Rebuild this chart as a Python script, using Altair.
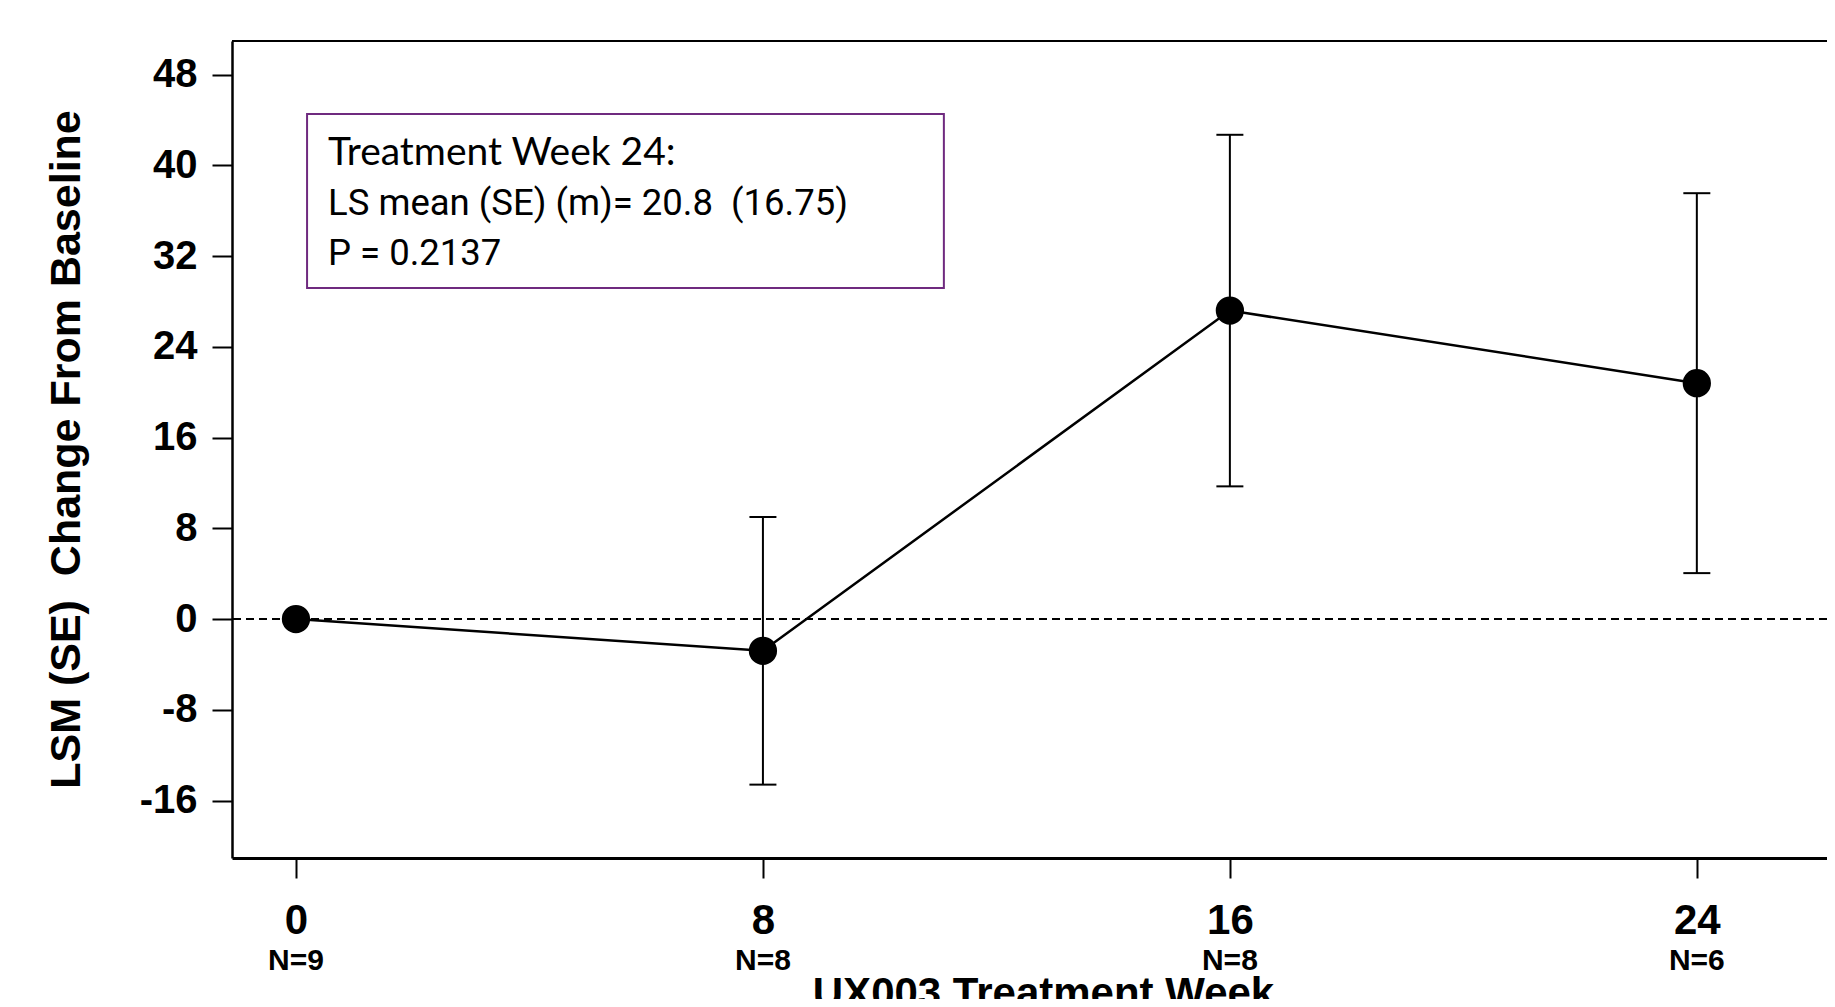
import altair as alt
import pandas as pd

# ---- data ----
weeks = [0, 8, 16, 24]
lsm = [0.0, -2.8, 27.2, 20.8]
se = [0.0, 11.8, 15.5, 16.75]
n_labels = ["N=9", "N=8", "N=8", "N=6"]
x_ticks = [0, 8, 16, 24]
y_ticks = [-16, -8, 0, 8, 16, 24, 32, 40, 48]
box_lines = ["Treatment Week 24:", "LS mean (SE) (m)= 20.8\u00a0\u00a0(16.75)", "P = 0.2137"]
box_x = [0.19, 11.1]
box_y = [29.19, 44.53]

W, H = 1595, 817
X_DOMAIN = [-1.096, 26.23]
Y_DOMAIN = [-21.07, 50.97]
BOLD_FONT = "Liberation Sans, Arial, sans-serif"

df = pd.DataFrame({"week": weeks, "lsm": lsm, "se": se, "n": n_labels})
df["lo"] = df["lsm"] - df["se"]
df["hi"] = df["lsm"] + df["se"]
err = df[df["se"] > 0]

xs = alt.Scale(domain=X_DOMAIN, nice=False, zero=False)
ys = alt.Scale(domain=Y_DOMAIN, nice=False, zero=False)

x_axis = alt.Axis(
    values=x_ticks, grid=False, labelFont=BOLD_FONT, labelFontSize=42,
    labelFontWeight="bold", labelColor="black", tickSize=20, tickWidth=2,
    tickColor="black", domainColor="black", domainWidth=3, labelPadding=22,
    labelExpr="toString(datum.value)",
    title="UX003 Treatment Week", titleFont=BOLD_FONT, titleFontSize=42,
    titleFontWeight="bold", titleColor="black", titleX=811, titleY=148,
    titleBaseline="alphabetic", titleAlign="center",
)
y_axis = alt.Axis(
    values=y_ticks, grid=False, labelFont=BOLD_FONT, labelFontSize=40,
    labelFontWeight="bold", labelColor="black", tickSize=20, tickWidth=2,
    tickColor="black", domainColor="black", domainWidth=2.5, labelPadding=15,
    labelExpr="toString(datum.value)",
    title="LSM (SE)\u00a0\u00a0Change From Baseline", titleFont=BOLD_FONT, titleFontSize=43,
    titleFontWeight="bold", titleColor="black", titleX=-153, titleY=408,
    titleAngle=270, titleBaseline="alphabetic", titleAlign="center",
)


def X(field):
    return alt.X(field, scale=xs, axis=x_axis)


def Y(field):
    return alt.Y(field, scale=ys, axis=y_axis)


line = alt.Chart(df).mark_line(color="black", strokeWidth=2.5).encode(
    x=X("week:Q"), y=Y("lsm:Q"),
)

ref_df = pd.DataFrame({"week": [0], "zero": [0.0], "top": [Y_DOMAIN[1]]})
zero_line = alt.Chart(ref_df).mark_rule(color="black", strokeWidth=2, strokeDash=[8, 5]).encode(
    y=Y("zero:Q")
)
top_line = alt.Chart(ref_df).mark_rule(color="black", strokeWidth=2).encode(
    y=Y("top:Q")
)

bars = alt.Chart(err).mark_rule(color="black", strokeWidth=2).encode(
    x=X("week:Q"), y=Y("lo:Q"), y2="hi:Q",
)
cap_hi = alt.Chart(err).mark_rule(color="black", strokeWidth=2, xOffset=-13.5, x2Offset=13.5).encode(
    x=X("week:Q"), x2="week:Q", y=Y("hi:Q"),
)
cap_lo = alt.Chart(err).mark_rule(color="black", strokeWidth=2, xOffset=-13.5, x2Offset=13.5).encode(
    x=X("week:Q"), x2="week:Q", y=Y("lo:Q"),
)

points = alt.Chart(df).mark_point(filled=True, color="black", opacity=1, size=800, shape="circle").encode(
    x=X("week:Q"), y=Y("lsm:Q"),
)

n_text = alt.Chart(df).mark_text(font=BOLD_FONT, fontSize=30, fontWeight="bold", color="black",
                                 align="center", baseline="alphabetic").encode(
    x=X("week:Q"), y=alt.value(929), text="n:N",
)

box_df = pd.DataFrame({"x0": [box_x[0]], "x1": [box_x[1]], "y0": [box_y[0]], "y1": [box_y[1]]})
box = alt.Chart(box_df).mark_rect(fillOpacity=0, stroke="#6f2a7f", strokeWidth=2).encode(
    x=X("x0:Q"), x2="x1:Q", y=Y("y0:Q"), y2="y1:Q",
)

t1 = alt.Chart(pd.DataFrame({"t": [box_lines[0]]})).mark_text(
    font="Lato, Open Sans, sans-serif", fontSize=39, color="black",
    align="left", baseline="alphabetic").encode(x=alt.value(96), y=alt.value(124), text="t:N")
t2 = alt.Chart(pd.DataFrame({"t": [box_lines[1]]})).mark_text(
    font="Roboto, sans-serif", fontSize=36.5, color="black",
    align="left", baseline="alphabetic").encode(x=alt.value(96), y=alt.value(174), text="t:N")
t3 = alt.Chart(pd.DataFrame({"t": [box_lines[2]]})).mark_text(
    font="Roboto, sans-serif", fontSize=36.5, color="black",
    align="left", baseline="alphabetic").encode(x=alt.value(96), y=alt.value(224), text="t:N")

chart = alt.layer(
    line, zero_line, top_line, box, t1, t2, t3, bars, cap_hi, cap_lo, points, n_text
).properties(
    width=W, height=H,
    autosize=alt.AutoSizeParams(type="none"),
    padding={"left": 224, "top": 33, "right": 0, "bottom": 141},
    background="white",
).configure_view(stroke=None)

chart.save("out.html", embed_options={"renderer": "svg", "actions": False})
